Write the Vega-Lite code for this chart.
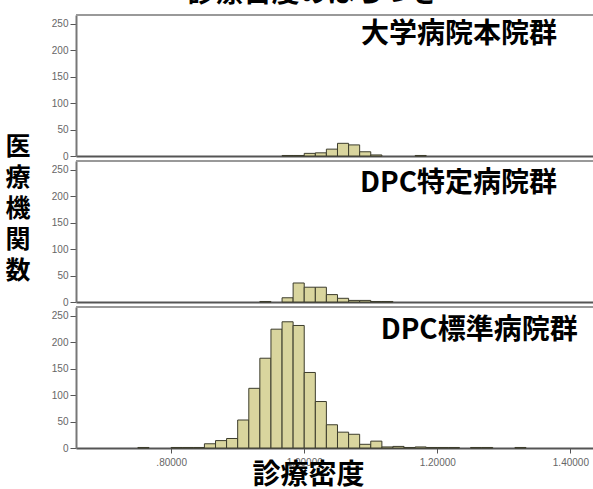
{
  "$schema": "https://vega.github.io/schema/vega-lite/v6.json",
  "padding": {"top": -20, "left": 5, "right": 0, "bottom": 0},
  "title": {"text": "診療密度のばらつき", "fontSize": 28, "font": "Noto Sans CJK JP", "fontWeight": "bold", "anchor": "middle", "offset": 6, "dx": 14, "color": "#000"},
  "config": {
    "view": {"stroke": null},
    "font": "Liberation Sans",
    "axis": {"grid": false, "labelFont": "Liberation Sans", "labelFontSize": 10, "labelColor": "#666", "tickColor": "#555", "tickSize": 6, "domainColor": "#777", "domainWidth": 2, "labelPadding": 2, "labelOverlap": false}
  },
  "datasets": {
    "h": [
      {"g": "A", "lo": 0.9667, "hi": 0.9833, "n": 1},
      {"g": "A", "lo": 0.9833, "hi": 1.0, "n": 1},
      {"g": "A", "lo": 1.0, "hi": 1.0167, "n": 5},
      {"g": "A", "lo": 1.0167, "hi": 1.0333, "n": 6},
      {"g": "A", "lo": 1.0333, "hi": 1.05, "n": 13},
      {"g": "A", "lo": 1.05, "hi": 1.0667, "n": 24},
      {"g": "A", "lo": 1.0667, "hi": 1.0833, "n": 21},
      {"g": "A", "lo": 1.0833, "hi": 1.1, "n": 8},
      {"g": "A", "lo": 1.1, "hi": 1.1167, "n": 2},
      {"g": "A", "lo": 1.1667, "hi": 1.1833, "n": 1},
      {"g": "B", "lo": 0.9333, "hi": 0.95, "n": 1},
      {"g": "B", "lo": 0.9667, "hi": 0.9833, "n": 8},
      {"g": "B", "lo": 0.9833, "hi": 1.0, "n": 36},
      {"g": "B", "lo": 1.0, "hi": 1.0167, "n": 28},
      {"g": "B", "lo": 1.0167, "hi": 1.0333, "n": 28},
      {"g": "B", "lo": 1.0333, "hi": 1.05, "n": 14},
      {"g": "B", "lo": 1.05, "hi": 1.0667, "n": 7},
      {"g": "B", "lo": 1.0667, "hi": 1.0833, "n": 3},
      {"g": "B", "lo": 1.0833, "hi": 1.1, "n": 3},
      {"g": "B", "lo": 1.1, "hi": 1.1167, "n": 1},
      {"g": "B", "lo": 1.1167, "hi": 1.1333, "n": 1},
      {"g": "C", "lo": 0.75, "hi": 0.7667, "n": 1},
      {"g": "C", "lo": 0.8, "hi": 0.8167, "n": 1},
      {"g": "C", "lo": 0.8167, "hi": 0.8333, "n": 1},
      {"g": "C", "lo": 0.8333, "hi": 0.85, "n": 1},
      {"g": "C", "lo": 0.85, "hi": 0.8667, "n": 8},
      {"g": "C", "lo": 0.8667, "hi": 0.8833, "n": 14},
      {"g": "C", "lo": 0.8833, "hi": 0.9, "n": 18},
      {"g": "C", "lo": 0.9, "hi": 0.9167, "n": 53},
      {"g": "C", "lo": 0.9167, "hi": 0.9333, "n": 113},
      {"g": "C", "lo": 0.9333, "hi": 0.95, "n": 170},
      {"g": "C", "lo": 0.95, "hi": 0.9667, "n": 225},
      {"g": "C", "lo": 0.9667, "hi": 0.9833, "n": 239},
      {"g": "C", "lo": 0.9833, "hi": 1.0, "n": 232},
      {"g": "C", "lo": 1.0, "hi": 1.0167, "n": 143},
      {"g": "C", "lo": 1.0167, "hi": 1.0333, "n": 88},
      {"g": "C", "lo": 1.0333, "hi": 1.05, "n": 44},
      {"g": "C", "lo": 1.05, "hi": 1.0667, "n": 30},
      {"g": "C", "lo": 1.0667, "hi": 1.0833, "n": 26},
      {"g": "C", "lo": 1.0833, "hi": 1.1, "n": 7},
      {"g": "C", "lo": 1.1, "hi": 1.1167, "n": 13},
      {"g": "C", "lo": 1.1167, "hi": 1.1333, "n": 2},
      {"g": "C", "lo": 1.1333, "hi": 1.15, "n": 3},
      {"g": "C", "lo": 1.15, "hi": 1.1667, "n": 1},
      {"g": "C", "lo": 1.1667, "hi": 1.1833, "n": 2},
      {"g": "C", "lo": 1.1833, "hi": 1.2, "n": 1},
      {"g": "C", "lo": 1.2, "hi": 1.2167, "n": 1},
      {"g": "C", "lo": 1.2167, "hi": 1.2333, "n": 1},
      {"g": "C", "lo": 1.25, "hi": 1.2667, "n": 1},
      {"g": "C", "lo": 1.2667, "hi": 1.2833, "n": 1},
      {"g": "C", "lo": 1.3167, "hi": 1.3333, "n": 1}
    ]
  },
  "bounds": "flush",
  "spacing": 5,
  "vconcat": [
    {
      "width": 517, "height": 141,
      "layer": [
        {
          "data": {"name": "h"},
          "transform": [{"filter": "datum.g === 'A'"}],
          "mark": {"type": "rect", "fill": "#d9d59e", "stroke": "#3c3c2c", "strokeWidth": 1},
          "encoding": {
            "x": {"field": "lo", "type": "quantitative", "scale": {"domain": [0.657, 1.434], "nice": false, "zero": false}, "axis": {"labels": false, "ticks": false, "title": null, "domainColor": "#555"}},
            "x2": {"field": "hi"},
            "y": {"field": "n", "type": "quantitative", "scale": {"domain": [0, 267], "nice": false}, "axis": {"values": [0, 50, 100, 150, 200, 250], "title": null}},
            "y2": {"datum": 0}
          }
        },
        {
          "data": {"values": [{}]},
          "mark": {"type": "rule", "color": "#999", "strokeWidth": 2},
          "encoding": {"y": {"datum": 267, "type": "quantitative", "axis": {"values": [0, 50, 100, 150, 200, 250], "title": null}}}
        },
        {
          "data": {"values": [{}]},
          "mark": {"type": "text", "align": "right", "baseline": "middle", "fontSize": 28, "fontWeight": "bold", "font": "Noto Sans CJK JP", "color": "#000"},
          "encoding": {"x": {"datum": 1.38, "type": "quantitative", "axis": {"labels": false, "ticks": false, "title": null, "domainColor": "#555"}}, "y": {"datum": 229, "type": "quantitative", "axis": {"values": [0, 50, 100, 150, 200, 250], "title": null}}, "text": {"value": "大学病院本院群"}}
        }
      ]
    },
    {
      "width": 517, "height": 141,
      "layer": [
        {
          "data": {"name": "h"},
          "transform": [{"filter": "datum.g === 'B'"}],
          "mark": {"type": "rect", "fill": "#d9d59e", "stroke": "#3c3c2c", "strokeWidth": 1},
          "encoding": {
            "x": {"field": "lo", "type": "quantitative", "scale": {"domain": [0.657, 1.434], "nice": false, "zero": false}, "axis": {"labels": false, "ticks": false, "title": null, "domainColor": "#555"}},
            "x2": {"field": "hi"},
            "y": {"field": "n", "type": "quantitative", "scale": {"domain": [0, 267], "nice": false}, "axis": {"values": [0, 50, 100, 150, 200, 250], "title": ["医", "療", "機", "関", "数"], "titleAngle": 0, "titleFont": "Noto Sans CJK JP", "titleFontSize": 25, "titleFontWeight": "bold", "titleLineHeight": 31, "titleColor": "#000", "titleX": -71, "titleY": -27, "titleAlign": "left", "titleBaseline": "top"}},
            "y2": {"datum": 0}
          }
        },
        {
          "data": {"values": [{}]},
          "mark": {"type": "rule", "color": "#999", "strokeWidth": 2},
          "encoding": {"y": {"datum": 267, "type": "quantitative", "axis": {"values": [0, 50, 100, 150, 200, 250], "title": ["医", "療", "機", "関", "数"], "titleAngle": 0, "titleFont": "Noto Sans CJK JP", "titleFontSize": 25, "titleFontWeight": "bold", "titleLineHeight": 31, "titleColor": "#000", "titleX": -71, "titleY": -27, "titleAlign": "left", "titleBaseline": "top"}}}
        },
        {
          "data": {"values": [{}]},
          "mark": {"type": "text", "align": "right", "baseline": "middle", "fontSize": 28, "fontWeight": "bold", "font": "Noto Sans CJK JP", "color": "#000"},
          "encoding": {"x": {"datum": 1.38, "type": "quantitative", "axis": {"labels": false, "ticks": false, "title": null, "domainColor": "#555"}}, "y": {"datum": 224, "type": "quantitative", "axis": {"values": [0, 50, 100, 150, 200, 250], "title": ["医", "療", "機", "関", "数"], "titleAngle": 0, "titleFont": "Noto Sans CJK JP", "titleFontSize": 25, "titleFontWeight": "bold", "titleLineHeight": 31, "titleColor": "#000", "titleX": -71, "titleY": -27, "titleAlign": "left", "titleBaseline": "top"}}, "text": {"value": "DPC特定病院群"}}
        }
      ]
    },
    {
      "width": 517, "height": 141,
      "layer": [
        {
          "data": {"name": "h"},
          "transform": [{"filter": "datum.g === 'C'"}],
          "mark": {"type": "rect", "fill": "#d9d59e", "stroke": "#3c3c2c", "strokeWidth": 1},
          "encoding": {
            "x": {"field": "lo", "type": "quantitative", "scale": {"domain": [0.657, 1.434], "nice": false, "zero": false}, "axis": {"values": [0.8, 1.0, 1.2, 1.4], "labelExpr": "datum.value < 1 ? replace(format(datum.value, '.5f'), '0.', '.') : format(datum.value, '.5f')", "tickSize": 5, "labelPadding": 4, "domainColor": "#555", "title": "診療密度", "titleFont": "Noto Sans CJK JP", "titleFontSize": 28, "titleFontWeight": "bold", "titleColor": "#000", "titlePadding": -6, "titleX": 232}},
            "x2": {"field": "hi"},
            "y": {"field": "n", "type": "quantitative", "scale": {"domain": [0, 267], "nice": false}, "axis": {"values": [0, 50, 100, 150, 200, 250], "title": null}},
            "y2": {"datum": 0}
          }
        },
        {
          "data": {"values": [{}]},
          "mark": {"type": "rule", "color": "#999", "strokeWidth": 2},
          "encoding": {"y": {"datum": 267, "type": "quantitative", "axis": {"values": [0, 50, 100, 150, 200, 250], "title": null}}}
        },
        {
          "data": {"values": [{}]},
          "mark": {"type": "text", "align": "right", "baseline": "middle", "fontSize": 28, "fontWeight": "bold", "font": "Noto Sans CJK JP", "color": "#000"},
          "encoding": {"x": {"datum": 1.411, "type": "quantitative", "axis": {"values": [0.8, 1.0, 1.2, 1.4], "labelExpr": "datum.value < 1 ? replace(format(datum.value, '.5f'), '0.', '.') : format(datum.value, '.5f')", "tickSize": 5, "labelPadding": 4, "domainColor": "#555", "title": "診療密度", "titleFont": "Noto Sans CJK JP", "titleFontSize": 28, "titleFontWeight": "bold", "titleColor": "#000", "titlePadding": -6, "titleX": 232}}, "y": {"datum": 221, "type": "quantitative", "axis": {"values": [0, 50, 100, 150, 200, 250], "title": null}}, "text": {"value": "DPC標準病院群"}}
        }
      ]
    }
  ]
}
